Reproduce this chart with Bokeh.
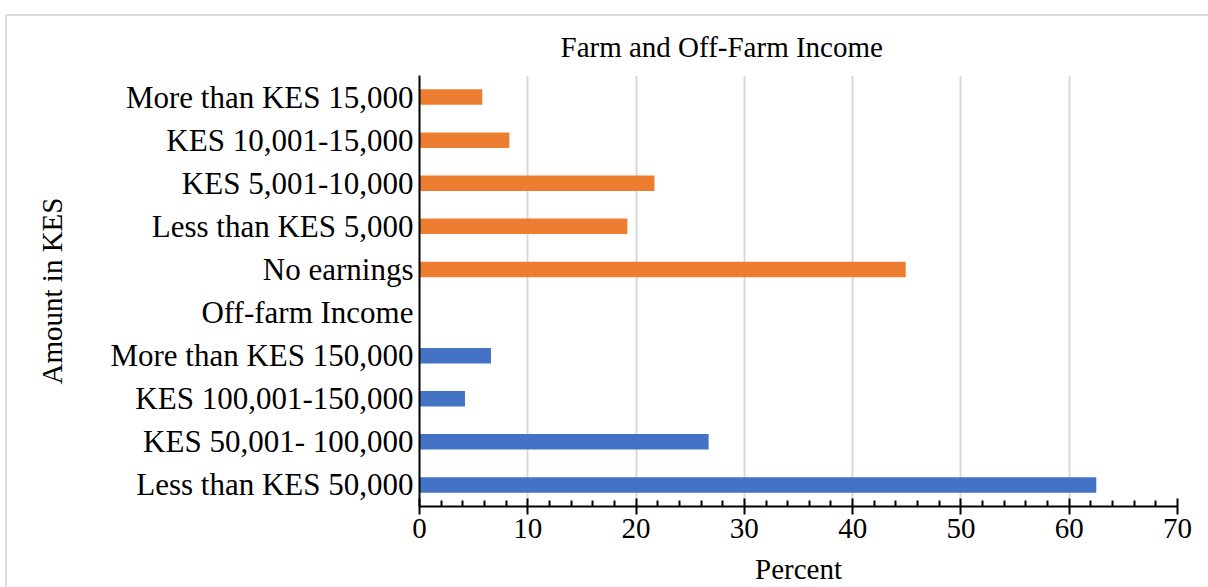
from bokeh.plotting import figure
from bokeh.models import FactorRange, Range1d, FixedTicker, ColumnDataSource
from bokeh.transform import factor_cmap
from bokeh.embed import file_html
from bokeh.resources import INLINE

# Data (top to bottom as shown)
categories = [
    "More than KES 15,000",
    "KES 10,001-15,000",
    "KES 5,001-10,000",
    "Less than KES 5,000",
    "No earnings",
    "Off-farm Income",
    "More than KES 150,000",
    "KES 100,001-150,000",
    "KES 50,001- 100,000",
    "Less than KES 50,000",
]
percent = [5.8, 8.3, 21.7, 19.2, 44.9, 0.0, 6.6, 4.2, 26.7, 62.5]
group = ["Farm", "Farm", "Farm", "Farm", "Farm", "Header",
         "Off-farm", "Off-farm", "Off-farm", "Off-farm"]
x_ticks = [0, 10, 20, 30, 40, 50, 60, 70]

FONT = "Liberation Serif"

src = ColumnDataSource(dict(cat=categories, val=percent, grp=group))

p = figure(
    width=1201, height=571,
    y_range=FactorRange(*list(reversed(categories)), range_padding=0),
    x_range=Range1d(0, 70),
    output_backend="svg", toolbar_location=None,
    frame_width=758, frame_height=431,
    min_border_left=412, min_border_right=31, min_border_top=59, min_border_bottom=81,
)
p.margin = (14, 0, 0, 5)
p.styles = {"border-top": "2px solid #dcdcdc", "border-left": "2px solid #dcdcdc"}

p.hbar(y="cat", right="val", left=0, height=0.36, source=src,
       fill_color=factor_cmap("grp", palette=["#ED7D31", "#FFFFFF", "#4472C4"],
                              factors=["Farm", "Header", "Off-farm"]),
       line_color=None)

p.title.text = "Farm and Off-Farm Income"
p.title.text_font = FONT
p.title.text_font_size = "29px"
p.title.text_font_style = "normal"
p.title.text_color = "#000000"
p.title.align = "left"
p.title.offset = 141
p.title.standoff = 25

p.outline_line_color = None
p.background_fill_color = "white"
p.border_fill_color = "white"

# grid
p.ygrid.grid_line_color = None
p.xgrid.grid_line_color = "#d9d9d9"
p.xgrid.grid_line_width = 2

# x axis
xa = p.xaxis[0]
xa.ticker = FixedTicker(ticks=x_ticks, minor_ticks=[v for v in range(0, 71, 2) if v % 10 != 0])
xa.axis_label = "Percent"
xa.axis_label_text_font = FONT
xa.axis_label_text_font_size = "29px"
xa.axis_label_text_font_style = "normal"
xa.axis_label_text_color = "#000000"
xa.major_label_text_font = FONT
xa.major_label_text_font_size = "29px"
xa.major_label_text_color = "#000000"
xa.axis_line_color = "#000000"
xa.axis_line_width = 2
xa.major_tick_line_color = "#000000"
xa.major_tick_line_width = 2
xa.major_tick_in = 8
xa.major_tick_out = 8
xa.minor_tick_line_color = "#000000"
xa.minor_tick_line_width = 2
xa.minor_tick_in = 6
xa.minor_tick_out = 0
xa.major_label_standoff = 4
xa.axis_label_standoff = 12

# y axis
ya = p.yaxis[0]
ya.axis_label = "Amount in KES"
ya.axis_label_text_font = FONT
ya.axis_label_text_font_size = "29px"
ya.axis_label_text_font_style = "normal"
ya.axis_label_text_color = "#000000"
ya.major_label_text_font = FONT
ya.major_label_text_font_size = "31px"
ya.major_label_text_color = "#000000"
ya.axis_line_color = "#000000"
ya.axis_line_width = 2
ya.major_tick_line_color = None
ya.minor_tick_line_color = None
ya.major_tick_in = 0
ya.major_tick_out = 0
ya.major_label_standoff = 6
ya.axis_label_standoff = 39

open("out.html", "w").write(file_html(p, INLINE))
